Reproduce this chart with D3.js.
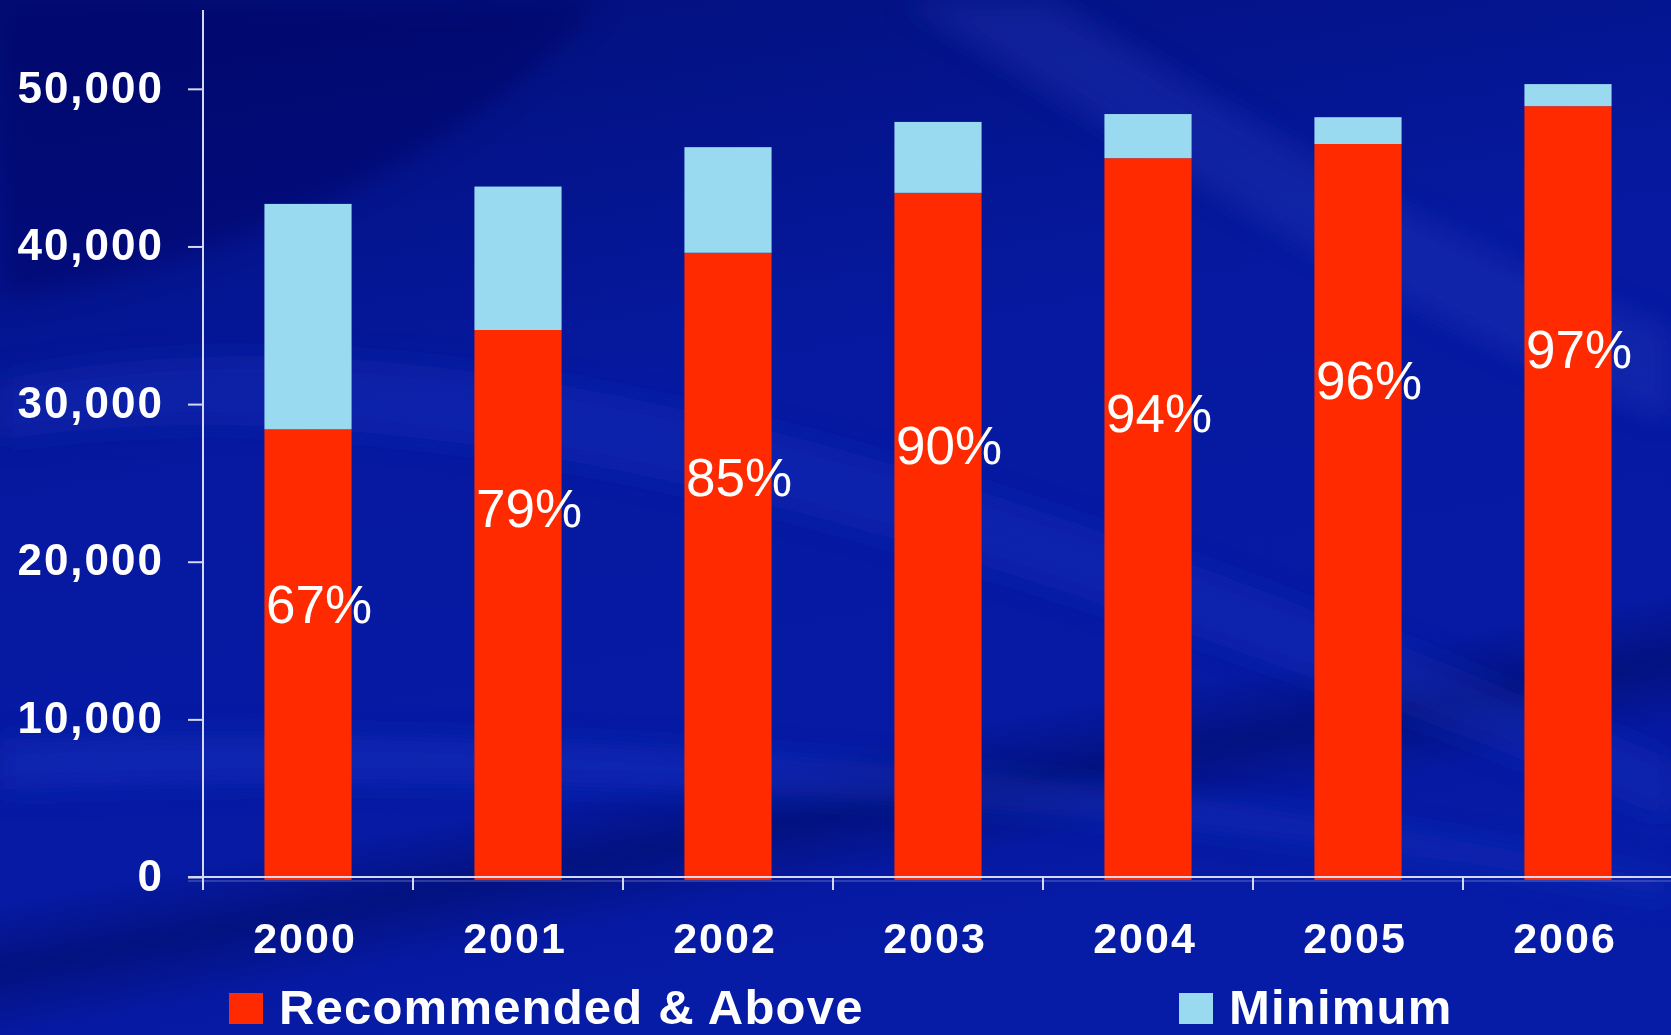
<!DOCTYPE html>
<html>
<head>
<meta charset="utf-8">
<script src="https://cdn.jsdelivr.net/npm/d3@7"></script>
<style>
  html, body { margin: 0; padding: 0; background: #0618a0; overflow: hidden; }
  svg { display: block; font-family: "Liberation Sans", Arial, sans-serif; }
</style>
</head>
<body>
<svg id="chart"></svg>
<script>
const years = ["2000", "2001", "2002", "2003", "2004", "2005", "2006"];
const recommended = [28400, 34700, 39600, 43400, 45600, 46500, 48900];
const minimum = [14300, 9100, 6700, 4500, 2800, 1700, 1400];
const percents = ["67%", "79%", "85%", "90%", "94%", "96%", "97%"];
// value the % label baseline sits at
const pctLabelAt = [16100, 22200, 24200, 26200, 28200, 30300, 32300];
const yTicks = [0, 10000, 20000, 30000, 40000, 50000];
const legendNames = ["Recommended & Above", "Minimum"];

const W = 1671, H = 1035;
const colors = { rec: "#ff2a00", min: "#9adaf0" };

const svg = d3.select("#chart").attr("width", W).attr("height", H);

// background
const defs = svg.append("defs");
const bg = defs.append("linearGradient").attr("id", "bg")
    .attr("x1", 0).attr("y1", 0).attr("x2", 0.3).attr("y2", 1);
bg.append("stop").attr("offset", 0).attr("stop-color", "#020f78");
bg.append("stop").attr("offset", 0.45).attr("stop-color", "#0619a0");
bg.append("stop").attr("offset", 0.8).attr("stop-color", "#061aa4");
bg.append("stop").attr("offset", 0.86).attr("stop-color", "#031280");
bg.append("stop").attr("offset", 0.92).attr("stop-color", "#0619a2");
bg.append("stop").attr("offset", 1).attr("stop-color", "#071ca6");
svg.append("rect").attr("width", W).attr("height", H).attr("fill", "url(#bg)");

const blur = defs.append("filter").attr("id", "blur").attr("x", -0.2).attr("y", -0.2)
    .attr("width", 1.4).attr("height", 1.4);
blur.append("feGaussianBlur").attr("stdDeviation", 14);

const streaks = svg.append("g").attr("filter", "url(#blur)");
streaks.append("path")
    .attr("d", "M900,0 C1150,150 1400,320 1671,420 L1671,330 C1450,250 1250,120 1050,0 Z")
    .attr("fill", "#2a45c8").attr("opacity", 0.25);
streaks.append("path")
    .attr("d", "M0,380 C400,300 900,420 1671,760 L1671,820 C900,500 400,380 0,440 Z")
    .attr("fill", "#1d36c0").attr("opacity", 0.35);
streaks.append("path")
    .attr("d", "M0,740 C500,720 1100,760 1671,880 L1671,900 C1100,790 500,770 0,790 Z")
    .attr("fill", "#2240cc").attr("opacity", 0.35);
streaks.append("path")
    .attr("d", "M0,0 L600,0 C500,120 300,250 0,300 Z")
    .attr("fill", "#000a60").attr("opacity", 0.45);

// scales
const x = d3.scaleBand().domain(years).range([203, 1673])
    .paddingInner(0.585).paddingOuter(0.2925);
const y = d3.scaleLinear().domain([0, 55000]).range([877, 10]);

const axisColor = "#d4d8f0";

// bars
const stacked = years.map((yr, i) => ({ yr, rec: recommended[i], min: minimum[i] }));
const bars = svg.append("g");
bars.selectAll("rect.rec").data(stacked).join("rect")
    .attr("class", "rec")
    .attr("x", d => x(d.yr)).attr("width", x.bandwidth())
    .attr("y", d => y(d.rec)).attr("height", d => y(0) - y(d.rec) + 3)
    .attr("fill", colors.rec);
bars.selectAll("rect.min").data(stacked).join("rect")
    .attr("class", "min")
    .attr("x", d => x(d.yr)).attr("width", x.bandwidth())
    .attr("y", d => y(d.rec + d.min)).attr("height", d => y(d.rec) - y(d.rec + d.min))
    .attr("fill", colors.min);

// y axis
const yAxis = d3.axisLeft(y).tickValues(yTicks).tickFormat(d3.format(","))
    .tickSize(15).tickPadding(24);
const gy = svg.append("g").attr("transform", "translate(203,0)").call(yAxis);
gy.select(".domain").remove();
gy.selectAll(".tick line").attr("stroke", axisColor).attr("stroke-width", 2);
gy.selectAll(".tick text")
    .attr("fill", "#ffffff").attr("font-size", 44).attr("font-weight", "bold")
    .attr("letter-spacing", 2).attr("dy", "0.3em");
svg.append("line").attr("x1", 203).attr("x2", 203).attr("y1", y(55000)).attr("y2", 890)
    .attr("stroke", axisColor).attr("stroke-width", 2);

// x axis
const xAxis = d3.axisBottom(x).tickSize(0).tickPadding(45);
const gx = svg.append("g").attr("transform", "translate(0,877)").call(xAxis);
gx.select(".domain").remove();
gx.selectAll(".tick text")
    .attr("fill", "#ffffff").attr("font-size", 43).attr("font-weight", "bold")
    .attr("letter-spacing", 2).attr("dx", -3);
svg.append("line").attr("x1", 188).attr("x2", W).attr("y1", y(0)).attr("y2", y(0))
    .attr("stroke", axisColor).attr("stroke-width", 2);
svg.append("line").attr("x1", 188).attr("x2", W).attr("y1", y(0) + 4).attr("y2", y(0) + 4)
    .attr("stroke", axisColor).attr("stroke-width", 1).attr("opacity", 0.4);
const gap = x.step() - x.bandwidth();
svg.append("g").selectAll("line").data(years.slice(0, -1)).join("line")
    .attr("x1", d => x(d) + x.bandwidth() + gap / 2)
    .attr("x2", d => x(d) + x.bandwidth() + gap / 2)
    .attr("y1", y(0)).attr("y2", y(0) + 13)
    .attr("stroke", axisColor).attr("stroke-width", 2);

// percentage labels
svg.append("g").selectAll("text").data(stacked).join("text")
    .attr("x", d => x(d.yr) + x.bandwidth() / 2 + 11)
    .attr("y", (d, i) => y(pctLabelAt[i]))
    .attr("text-anchor", "middle")
    .attr("fill", "#ffffff").attr("font-size", 53)
    .text((d, i) => percents[i]);

// legend
const legend = svg.append("g");
const legendX = [229, 1179];
const legendCol = [colors.rec, colors.min];
legendNames.forEach((name, i) => {
    legend.append("rect").attr("x", legendX[i]).attr("y", 993)
        .attr("width", 34).attr("height", 31).attr("fill", legendCol[i]);
    legend.append("text").attr("x", legendX[i] + 50).attr("y", 1024)
        .attr("fill", "#ffffff").attr("font-size", 49).attr("font-weight", "bold")
        .attr("letter-spacing", 1.2)
        .text(name);
});
</script>
</body>
</html>
